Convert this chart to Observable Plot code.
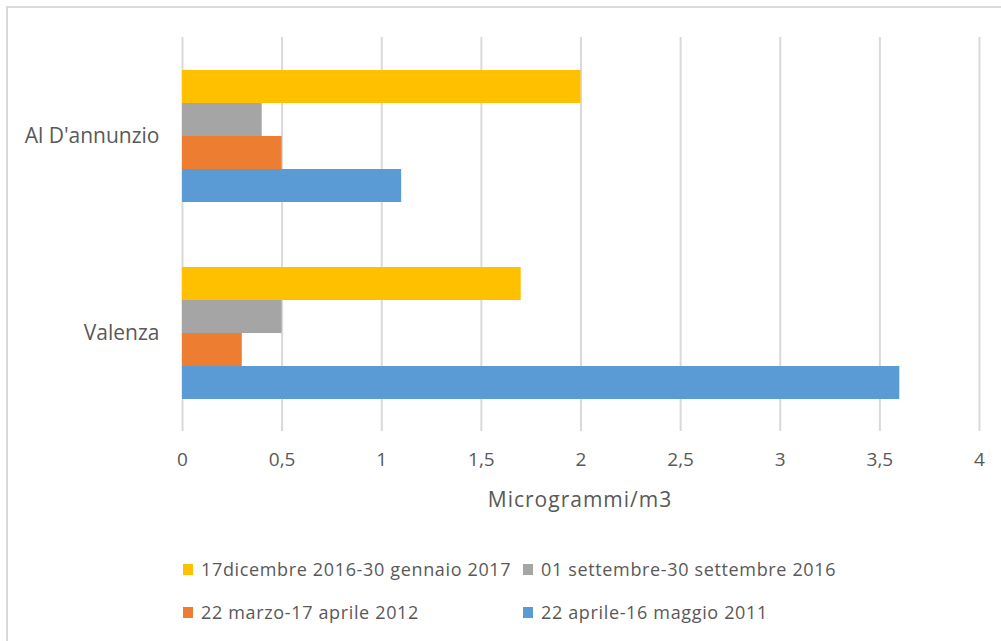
<!DOCTYPE html>
<html>
<head>
<meta charset="utf-8">
<script src="https://cdn.jsdelivr.net/npm/d3@7"></script>
<script src="https://cdn.jsdelivr.net/npm/@observablehq/plot@0.6"></script>
<style>
  html, body { margin: 0; padding: 0; background: #fff; }
  #wrap { position: relative; width: 1001px; height: 641px; overflow: hidden; font-family: "Open Sans", sans-serif; color: #595959; }
  #frame { position: absolute; left: 6px; top: 6px; width: 1010px; height: 650px; border: 2px solid #d9d9d9; box-sizing: border-box; }
  #chart { position: absolute; left: 0; top: 0; }
  #xtitle { position: absolute; left: 380px; width: 400px; top: 485px; height: 28px; line-height: 28px; text-align: center; font-size: 21px; letter-spacing: 1px; }
  .leg { position: absolute; display: flex; align-items: center; font-size: 18px; letter-spacing: 0.65px; white-space: nowrap; line-height: 1; }
  .leg .sw { width: 10px; height: 11px; margin-right: 8px; flex: none; }
</style>
</head>
<body>
<div id="wrap">
  <div id="frame"></div>
  <div id="chart"></div>
  <div id="xtitle"></div>
</div>
<script>
const sites = ["Al D'annunzio", "Valenza"];
const series = [
  "17dicembre 2016-30 gennaio 2017",
  "01 settembre-30 settembre 2016",
  "22 marzo-17 aprile 2012",
  "22 aprile-16 maggio 2011"
];
const colors = ["#FFC000", "#A5A5A5", "#ED7D31", "#5B9BD5"];
const valuesAlDannunzio = [2.0, 0.4, 0.5, 1.1];
const valuesValenza = [1.7, 0.5, 0.3, 3.6];
const xTicks = [0, 0.5, 1, 1.5, 2, 2.5, 3, 3.5, 4];
const xLabel = "Microgrammi/m3";

const data = [];
series.forEach((s, i) => {
  data.push({site: sites[0], series: s, value: valuesAlDannunzio[i]});
  data.push({site: sites[1], series: s, value: valuesValenza[i]});
});

const fmt = d => String(d).replace(".", ",");

const chart = Plot.plot({
  width: 1001,
  height: 480,
  marginTop: 37,
  marginBottom: 49,
  marginLeft: 182,
  marginRight: 22,
  style: {fontFamily: "Open Sans, sans-serif", color: "#595959", background: "transparent"},
  x: {domain: [0, 4]},
  y: {domain: series, paddingInner: 0, paddingOuter: 0.94, axis: null},
  fy: {domain: sites, padding: 0},
  color: {domain: series, range: colors},
  marks: [
    Plot.gridX(xTicks, {stroke: "#d9d9d9", strokeOpacity: 1, strokeWidth: 2}),
    Plot.barX(data, {x: "value", y: "series", fy: "site", fill: "series"}),
    Plot.axisX(xTicks, {tickSize: 0, tickPadding: 21, fontSize: 19, tickFormat: fmt, label: null}),
    Plot.axisFy({anchor: "left", tickSize: 0, tickPadding: 23, fontSize: 21, label: null})
  ]
});
document.getElementById("chart").appendChild(chart);
document.getElementById("xtitle").textContent = xLabel;

// legend
const legPos = [[183, 569], [523, 569], [183, 612], [523, 612]];
const wrap = document.getElementById("wrap");
series.forEach((s, i) => {
  const d = document.createElement("div");
  d.className = "leg";
  d.style.left = legPos[i][0] + "px";
  d.style.top = (legPos[i][1] - 10) + "px";
  d.style.height = "20px";
  const sw = document.createElement("span");
  sw.className = "sw";
  sw.style.background = colors[i];
  const t = document.createElement("span");
  t.textContent = s;
  d.appendChild(sw);
  d.appendChild(t);
  wrap.appendChild(d);
});
</script>
</body>
</html>
